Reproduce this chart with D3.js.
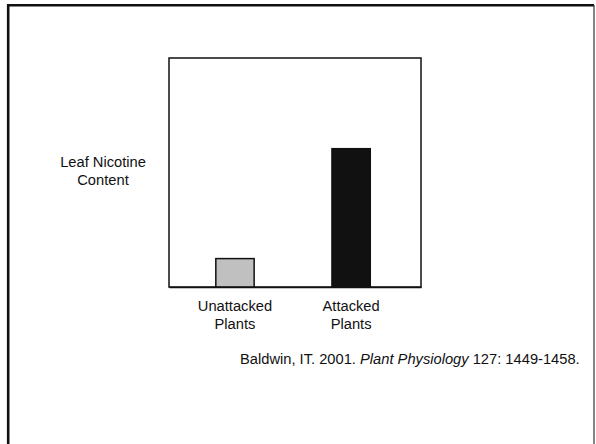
<!DOCTYPE html>
<html>
<head>
<meta charset="utf-8">
<script src="https://cdn.jsdelivr.net/npm/d3@7"></script>
<style>
  body { margin: 0; background: #fff; }
  text { font-family: "Liberation Sans", Arial, sans-serif; font-size: 14.7px; fill: #111; }
</style>
</head>
<body>
<div id="chart"></div>
<script>
// chart data
var categories = ["Unattacked Plants", "Attacked Plants"];
var nicotine = [12.4, 60.4];
var barColors = ["#c0c0c0", "#111111"];
var yLabel = ["Leaf Nicotine", "Content"];
var xLabels = [["Unattacked", "Plants"], ["Attacked", "Plants"]];

var width = 596;
var height = 444;

var svg = d3.select("#chart")
    .append("svg")
    .attr("width", width)
    .attr("height", height);

// slide frame: heavy top/left, thin right
svg.append("path")
    .attr("d", "M8.2,444V5.2H594")
    .attr("fill", "none")
    .attr("stroke", "#111")
    .attr("stroke-width", 2.6);
svg.append("line")
    .attr("x1", 594).attr("x2", 594)
    .attr("y1", 5).attr("y2", 444)
    .attr("stroke", "#333")
    .attr("stroke-width", 1.2);

var plot = { left: 169, right: 421, top: 58, bottom: 287 };

var x = d3.scaleBand()
    .domain(categories)
    .range([plot.left, plot.right])
    .paddingInner(0.67)
    .paddingOuter(0.42)
    .align(0.48);

var y = d3.scaleLinear()
    .domain([0, 100])
    .range([plot.bottom, plot.top]);

// plot box
svg.append("rect")
    .attr("x", plot.left)
    .attr("y", plot.top)
    .attr("width", plot.right - plot.left)
    .attr("height", plot.bottom - plot.top)
    .attr("fill", "#fff")
    .attr("stroke", "#111")
    .attr("stroke-width", 1.5);

svg.selectAll(".bar")
    .data(nicotine)
    .enter()
    .append("rect")
    .attr("class", "bar")
    .attr("x", function (d, i) { return x(categories[i]); })
    .attr("y", function (d) { return y(d); })
    .attr("width", x.bandwidth())
    .attr("height", function (d) { return y(0) - y(d); })
    .attr("fill", function (d, i) { return barColors[i]; })
    .attr("stroke", "#111")
    .attr("stroke-width", 1.5);

// baseline drawn with the axis, no ticks or labels
svg.append("g")
    .attr("transform", "translate(0," + plot.bottom + ")")
    .call(d3.axisBottom(x).tickSize(0).tickFormat(""))
    .select(".domain")
    .attr("stroke", "#111")
    .attr("stroke-width", 1.5);

// category labels
categories.forEach(function (c, i) {
    var cx = x(c) + x.bandwidth() / 2;
    xLabels[i].forEach(function (line, j) {
        svg.append("text")
            .attr("x", cx)
            .attr("y", 311 + j * 17.7)
            .attr("text-anchor", "middle")
            .text(line);
    });
});

// y label
yLabel.forEach(function (line, j) {
    svg.append("text")
        .attr("x", 103)
        .attr("y", 167 + j * 17.8)
        .attr("text-anchor", "middle")
        .text(line);
});

// citation
var cite = svg.append("text")
    .attr("x", 240)
    .attr("y", 364);
cite.append("tspan").text("Baldwin, IT. 2001. ");
cite.append("tspan").attr("font-style", "italic").text("Plant Physiology");
cite.append("tspan").text(" 127: 1449-1458.");
</script>
</body>
</html>
